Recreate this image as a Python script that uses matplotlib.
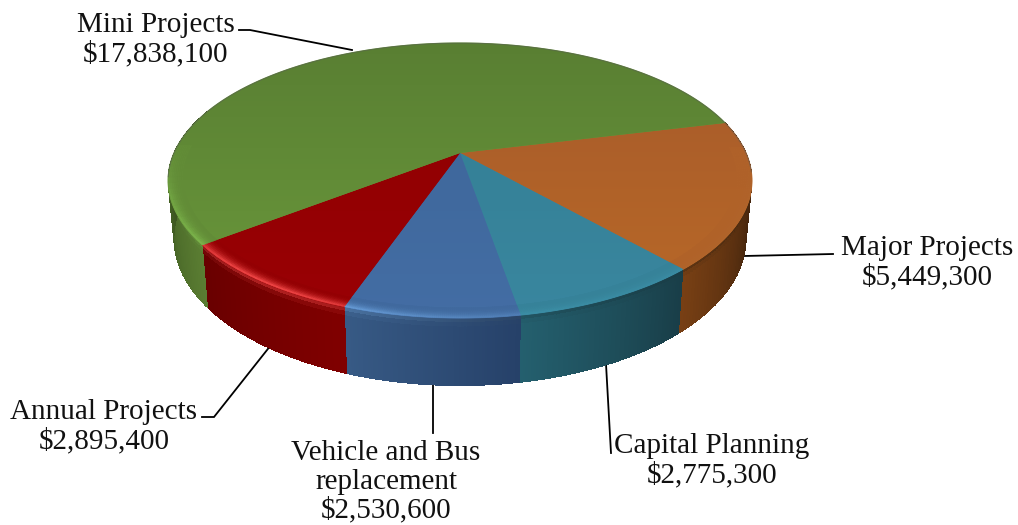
import numpy as np
import matplotlib
matplotlib.use("Agg")
import matplotlib.pyplot as plt
from matplotlib.collections import PolyCollection
from matplotlib.patches import Polygon

# ---- data, in clockwise order from the Mini/Major boundary
categories = ["Major Projects", "Capital Planning", "Vehicle and Bus\nreplacement",
              "Annual Projects", "Mini Projects"]
amounts = [5449300, 2775300, 2530600, 2895400, 17838100]
amount_labels = ["$5,449,300", "$2,775,300", "$2,530,600", "$2,895,400", "$17,838,100"]

# ---- colours: top surface (far, near), side (screen-left, screen-right), rim light
top_far = ["#A5592A", "#327D91", "#3C6496", "#8C0000", "#587D32"]
top_near = ["#BA6A28", "#3A87A0", "#446EA5", "#9B0005", "#6C9B3C"]
side_left = ["#773F14", "#245F6E", "#375A85", "#690000", "#283C14"]
side_right = ["#231408", "#193E48", "#264169", "#800000", "#5A7D32"]
rim_light = ["#B06C30", "#46A5BE", "#6EA5E1", "#F04646", "#82BE50"]

plt.rcParams["font.family"] = ["Liberation Serif", "DejaVu Serif"]
fig = plt.figure(figsize=(10.18, 5.25), dpi=100)
ax = fig.add_axes([0, 0, 1, 1])

CX, CY, RX, RY, K = 460.0, 153.0, 286.0, 132.0, 0.20
START = 13.8


def project(theta, r=1.0, z=0.0):
    """Perspective disc; z=0 is the top face, z=1 the bottom edge."""
    u, v = r * np.cos(theta), r * np.sin(theta)
    w = 1 + K * v
    sx = 1 - 0.02 * z
    sy = 1 + 0.07 * z
    return CX + sx * RX * u / w, CY + 56 * z - sy * RY * v / w


def rgb(c):
    return np.array(matplotlib.colors.to_rgb(c))


shares = np.array(amounts, dtype=float) / sum(amounts) * 360
edges = START - np.concatenate([[0], np.cumsum(shares)])

# sides
for i in range(len(amounts)):
    hi, lo = edges[i], edges[i + 1]
    lo_vis = max(lo, -200.0)
    th = np.radians(np.linspace(hi, lo_vis, 70))
    zs = np.linspace(0, 1, 16)
    # a solid underlay in the slice's mean side colour hides seams between the strips
    xt, yt = project(th, 1, 0)
    xb, yb = project(th[::-1], 1, 1)
    ax.add_patch(Polygon(np.column_stack([np.r_[xt, xb], np.r_[yt, yb]]), closed=True,
                         fc=0.5 * (rgb(side_left[i]) + rgb(side_right[i])), ec="none", zorder=0.9))
    polys, cols = [], []
    for a in range(len(th) - 1):
        t = a / (len(th) - 2)          # 0 at the slice's right end on screen
        if i == 0:
            m = min(1, (1 - t) * 1.15)
            base = rgb(side_left[i]) * (1 - m) + rgb(side_right[i]) * m
        else:
            base = rgb(side_right[i]) * (1 - t) + rgb(side_left[i]) * t
        mid = np.degrees(0.5 * (th[a] + th[a + 1]))
        h = np.exp(-((mid + 125) / 32) ** 2)
        light = rgb(rim_light[i])
        for b in range(len(zs) - 1):
            x0, y0 = project(th[a], 1, zs[b]); x1, y1 = project(th[a + 1], 1, zs[b])
            x2, y2 = project(th[a + 1], 1, zs[b + 1]); x3, y3 = project(th[a], 1, zs[b + 1])
            polys.append([(x0, y0), (x1, y1), (x2, y2), (x3, y3)])
            f = np.clip(1 - zs[b] / 0.14, 0, 1) ** 2
            cols.append(base * (1 - 0.45 * f) + (0.45 * f) * (light * (0.35 + 0.65 * h)))
    ax.add_collection(PolyCollection(polys, facecolors=cols, edgecolors="none",
                                     antialiaseds=False, zorder=1))

# top faces with a vertical gradient
for i in range(len(amounts)):
    th = np.radians(np.linspace(edges[i], edges[i + 1], 200))
    x, y = project(th)
    cx0, cy0 = project(0.0, 0.0)
    verts = np.column_stack([np.r_[cx0, x], np.r_[cy0, y]])
    # solid underlay closes the hairline gaps between neighbouring slices
    ax.add_patch(Polygon(verts, closed=True, fc=top_near[i], ec=top_near[i], lw=0.8, zorder=1.5))
    patch = Polygon(verts, closed=True, transform=ax.transData, fc="none", ec="none")
    ax.add_patch(patch)
    n = 64
    grad = np.linspace(0, 1, n)[:, None, None]
    img = rgb(top_far[i])[None, None, :] * (1 - grad) + rgb(top_near[i])[None, None, :] * grad
    im = ax.imshow(img, extent=(150, 770, 340, 20), aspect="auto", interpolation="bilinear", zorder=2)
    im.set_clip_path(patch)

# bevelled rim
rs = np.linspace(0.95, 1.0, 9)
for i in range(len(amounts)):
    th = np.radians(np.linspace(edges[i], edges[i + 1], 90))
    polys, cols = [], []
    base = 0.5 * (rgb(top_far[i]) + rgb(top_near[i]))
    light = rgb(rim_light[i])
    for a in range(len(th) - 1):
        mid = np.degrees(0.5 * (th[a] + th[a + 1]))
        h = np.exp(-((mid + 125) / 32) ** 2)
        fade = np.clip((0.05 - np.sin(np.radians(mid))) / 0.35, 0, 1)
        if fade <= 0:
            continue
        for b in range(len(rs) - 1):
            s = (b + 1) / (len(rs) - 1)
            amt = (0.25 + 0.75 * h) * s ** 2.5 * fade
            x0, y0 = project(th[a], rs[b]); x1, y1 = project(th[a + 1], rs[b])
            x2, y2 = project(th[a + 1], rs[b + 1]); x3, y3 = project(th[a], rs[b + 1])
            polys.append([(x0, y0), (x1, y1), (x2, y2), (x3, y3)])
            cols.append(base * (1 - amt) + light * amt)
    if polys:
        ax.add_collection(PolyCollection(polys, facecolors=cols, edgecolors=cols,
                                         linewidths=0.3, zorder=3))

# faint grey edge at the back
th = np.radians(np.linspace(-8, 190, 200))
ax.plot(*project(th), color="#555555", lw=0.7, alpha=0.55, zorder=4)

# leader lines
leaders = [
    [(744, 256), (833, 254)],
    [(606, 364), (611, 453)],
    [(433, 384), (433, 433)],
    [(271, 345), (214, 417), (202, 417)],
    [(352, 50), (250, 30), (239, 30)],
]
for pts in leaders:
    xs, ys = zip(*pts)
    ax.plot(xs, ys, color="black", lw=1.3, zorder=0.5, solid_joinstyle="miter")

# labels
label_pos = [(927, 263), (712, 461), (386, 482), (104, 427), (156, 40)]
for name, amt, (lx, ly) in zip(categories, amount_labels, label_pos):
    ax.text(lx, ly, f"{name}\n{amt}", ha="center", va="center", fontsize=21,
            color="#111111", linespacing=1.12, zorder=6)

ax.set_xlim(0, 1018)
ax.set_ylim(525, 0)
ax.axis("off")
fig.savefig("out.png", dpi=100, facecolor="white")
